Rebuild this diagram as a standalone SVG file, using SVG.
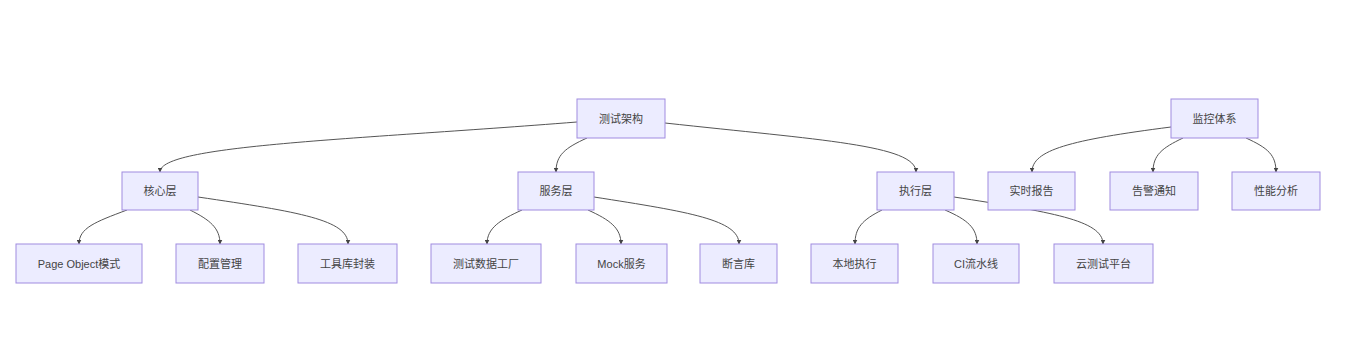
<svg xmlns="http://www.w3.org/2000/svg" width="1362" height="342" viewBox="0 0 1362 342">
<style>
.node rect{fill:#ECECFF;stroke:#A08BE0;stroke-width:1}
.node text{font-family:"Liberation Sans","Noto Sans CJK SC",sans-serif;font-size:11px;fill:#444;text-anchor:middle;dominant-baseline:central}
.edges path{fill:none;stroke:#555;stroke-width:1}
</style>
<defs>
<marker id="arr" viewBox="0 0 10 10" refX="9" refY="5" markerWidth="5" markerHeight="5" orient="auto" markerUnits="userSpaceOnUse">
<path d="M0,0 L10,5 L0,10 z" fill="#444"/>
</marker>
</defs>
<rect width="1362" height="342" fill="#ffffff"/>
<g class="edges">
<path d="M577,122 C350,140 160,145 160,172" marker-end="url(#arr)"/>
<path d="M587,138 C565,148 556,155 556,172" marker-end="url(#arr)"/>
<path d="M665,123 C820,140 916,145 916,172" marker-end="url(#arr)"/>
<path d="M127,210 C95,222 79,228 79,244" marker-end="url(#arr)"/>
<path d="M190,210 C210,220 220,228 220,244" marker-end="url(#arr)"/>
<path d="M198,197 C300,212 348,220 348,244" marker-end="url(#arr)"/>
<path d="M522,210 C500,220 487,228 487,244" marker-end="url(#arr)"/>
<path d="M588,210 C610,220 621,228 621,244" marker-end="url(#arr)"/>
<path d="M594,197 C690,212 739,220 739,244" marker-end="url(#arr)"/>
<path d="M882,210 C862,220 855,228 855,244" marker-end="url(#arr)"/>
<path d="M945,210 C968,220 977,228 977,244" marker-end="url(#arr)"/>
<path d="M954,197 C1050,212 1103,220 1103,244" marker-end="url(#arr)"/>
<path d="M1171,127 C1070,140 1032,150 1032,172" marker-end="url(#arr)"/>
<path d="M1183,138 C1162,148 1153,155 1153,172" marker-end="url(#arr)"/>
<path d="M1246,138 C1268,148 1276,155 1276,172" marker-end="url(#arr)"/>
</g>
<g id="n-root" class="node"><rect x="577" y="99" width="88" height="39"/><text x="621" y="118.5">测试架构</text></g>
<g id="n-monitor" class="node"><rect x="1171" y="99" width="87" height="39"/><text x="1214.5" y="118.5">监控体系</text></g>
<g id="n-core" class="node"><rect x="122" y="172" width="76" height="38"/><text x="160" y="191">核心层</text></g>
<g id="n-service" class="node"><rect x="518" y="172" width="76" height="38"/><text x="556" y="191">服务层</text></g>
<g id="n-exec" class="node"><rect x="877" y="172" width="77" height="38"/><text x="915.5" y="191">执行层</text></g>
<g id="n-report" class="node"><rect x="988" y="172" width="87" height="38"/><text x="1031.5" y="191">实时报告</text></g>
<g id="n-alert" class="node"><rect x="1110" y="172" width="88" height="38"/><text x="1154" y="191">告警通知</text></g>
<g id="n-perf" class="node"><rect x="1232" y="172" width="88" height="38"/><text x="1276" y="191">性能分析</text></g>
<g id="n-po" class="node"><rect x="16" y="244" width="126" height="39"/><text x="79" y="263.5">Page Object模式</text></g>
<g id="n-config" class="node"><rect x="176" y="244" width="88" height="39"/><text x="220" y="263.5">配置管理</text></g>
<g id="n-tools" class="node"><rect x="298" y="244" width="99" height="39"/><text x="347.5" y="263.5">工具库封装</text></g>
<g id="n-data" class="node"><rect x="431" y="244" width="110" height="39"/><text x="486" y="263.5">测试数据工厂</text></g>
<g id="n-mock" class="node"><rect x="576" y="244" width="91" height="39"/><text x="621.5" y="263.5">Mock服务</text></g>
<g id="n-assert" class="node"><rect x="700" y="244" width="77" height="39"/><text x="738.5" y="263.5">断言库</text></g>
<g id="n-local" class="node"><rect x="811" y="244" width="87" height="39"/><text x="854.5" y="263.5">本地执行</text></g>
<g id="n-ci" class="node"><rect x="933" y="244" width="86" height="39"/><text x="976" y="263.5">CI流水线</text></g>
<g id="n-cloud" class="node"><rect x="1054" y="244" width="99" height="39"/><text x="1103.5" y="263.5">云测试平台</text></g>
</svg>
